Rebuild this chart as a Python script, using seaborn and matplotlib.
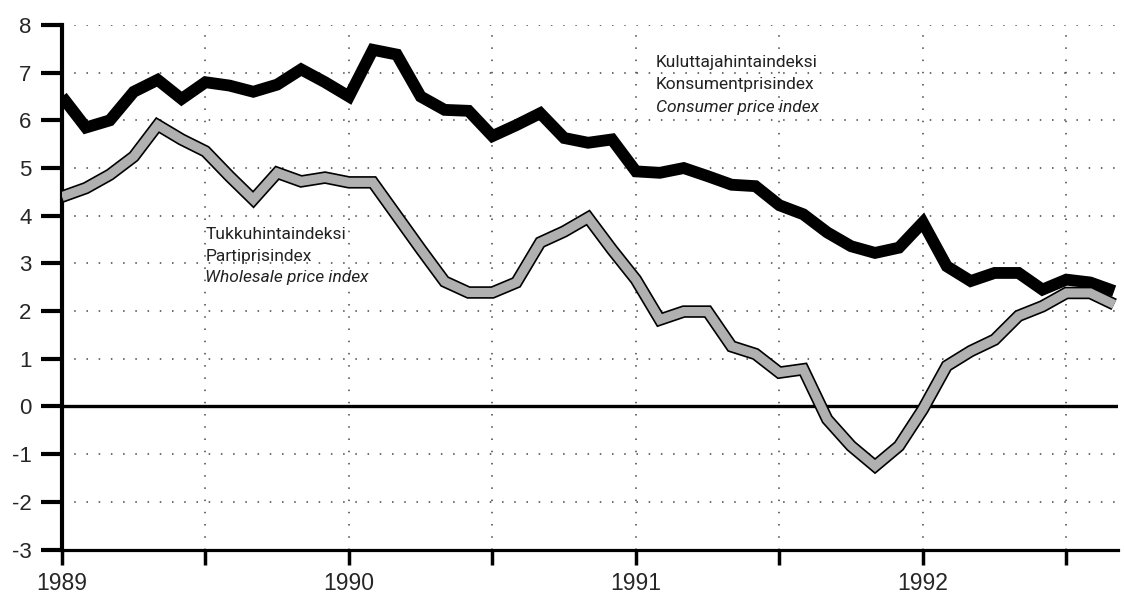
"""Kuluttajahintaindeksi ja tukkuhintaindeksi, muutos % 1989-1992."""

import matplotlib.patheffects as pe
import matplotlib.pyplot as plt
import numpy as np
import pandas as pd
import seaborn as sns


# monthly observations, Jan 1989 - Sep 1992
MONTHS = pd.date_range("1989-01-01", periods=45, freq="MS")

CPI = [
    6.5, 5.85, 6.0, 6.6, 6.85, 6.45, 6.8, 6.73, 6.6, 6.75, 7.07, 6.8,
    6.5, 7.48, 7.38, 6.5, 6.22, 6.2, 5.67, 5.9, 6.15, 5.63, 5.53, 5.6,
    4.93, 4.9, 5.0, 4.83, 4.65, 4.62, 4.22, 4.03, 3.65, 3.36, 3.22, 3.33,
    3.86, 2.94, 2.63, 2.8, 2.8, 2.45, 2.66, 2.6, 2.42,
]

WHOLESALE = [
    4.4, 4.58, 4.86, 5.24, 5.9, 5.6, 5.35, 4.83, 4.34, 4.9, 4.72, 4.8,
    4.7, 4.7, 4.0, 3.3, 2.62, 2.39, 2.39, 2.6, 3.44, 3.67, 3.96, 3.29,
    2.66, 1.82, 1.99, 1.99, 1.26, 1.1, 0.71, 0.78, -0.27, -0.83, -1.25, -0.83,
    -0.06, 0.85, 1.16, 1.4, 1.9, 2.1, 2.38, 2.38, 2.14,
]

YEAR_TICKS = [1989, 1989.5, 1990, 1990.5, 1991, 1991.5, 1992, 1992.5]
YEAR_LABELS = ["1989", "", "1990", "", "1991", "", "1992", ""]
Y_TICKS = list(range(-3, 9))

CPI_LABEL = ["Kuluttajahintaindeksi", "Konsumentprisindex", "Consumer price index"]
WPI_LABEL = ["Tukkuhintaindeksi", "Partiprisindex", "Wholesale price index"]

sns.set_style("ticks")
plt.rcParams["font.family"] = ["Liberation Sans", "DejaVu Sans"]
plt.rcParams["axes.unicode_minus"] = False

data = pd.DataFrame(
    {
        "year": MONTHS.year + (MONTHS.month - 1) / 12,
        "cpi": CPI,
        "wholesale": WHOLESALE,
    }
)

fig = plt.figure(figsize=(11.24, 6.02), dpi=100)
ax = fig.add_axes([62 / 1124, 52.5 / 602, 1056 / 1124, 524.5 / 602])

dots = (0, (1, 7))
for y in Y_TICKS:
    if y not in (0, -3):
        ax.axhline(y, color="#444444", lw=1.1, ls=dots, zorder=1)
for x in YEAR_TICKS[1:]:
    ax.axvline(x, color="#444444", lw=1.1, ls=dots, zorder=1)
ax.axhline(0, color="black", lw=2.4, zorder=2)

sns.lineplot(
    data=data, x="year", y="cpi", ax=ax, color="black", lw=8.5,
    solid_joinstyle="miter", solid_capstyle="butt", zorder=3,
)
sns.lineplot(
    data=data, x="year", y="wholesale", ax=ax, color="#b0b0b0", lw=6.6,
    solid_joinstyle="miter", solid_capstyle="butt", zorder=4,
    path_effects=[pe.Stroke(linewidth=9.0, foreground="black"), pe.Normal()],
)

ax.set_xlim(1989, 1992.68)
ax.set_ylim(-3, 8)
ax.set_xticks(YEAR_TICKS)
ax.set_xticklabels(YEAR_LABELS)
ax.set_yticks(Y_TICKS)
ax.set_xlabel("")
ax.set_ylabel("")
ax.tick_params(axis="y", length=15, width=3, pad=7, labelsize=16, color="black")
ax.tick_params(axis="x", length=11, width=2.5, pad=5, labelsize=16.5, color="black")

sns.despine(ax=ax)
ax.spines["left"].set_linewidth(3)
ax.spines["bottom"].set_linewidth(2.3)
ax.spines["left"].set_color("black")
ax.spines["bottom"].set_color("black")

label_font = ["Liberation Sans Narrow", "Roboto", "DejaVu Sans"]
for i, (text, y) in enumerate(zip(CPI_LABEL, [7.21, 6.75, 6.27])):
    ax.text(1991.07, y, text, fontsize=12.5, color="#222222", va="center",
            family=label_font, style="italic" if i == 2 else "normal")
for i, (text, y) in enumerate(zip(WPI_LABEL, [3.6, 3.14, 2.7])):
    ax.text(1989.5, y, text, fontsize=12.5, color="#222222", va="center",
            family=label_font, style="italic" if i == 2 else "normal")

fig.savefig("out.png", dpi=100, facecolor="white")
